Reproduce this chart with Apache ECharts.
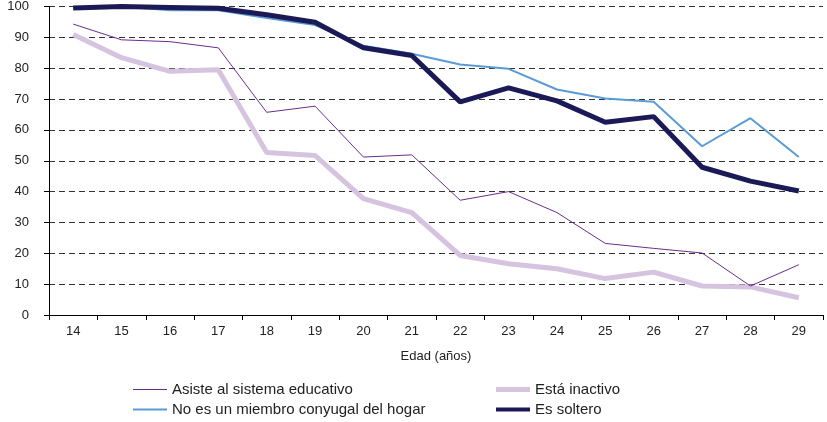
<!DOCTYPE html>
<html>
<head>
    <meta charset="UTF-8">
    <title>Edad</title>
    <script src="https://cdn.jsdelivr.net/npm/echarts@6/dist/echarts.min.js"></script>
    <style>
        html, body { margin: 0; padding: 0; background: #fff; }
        #main { width: 827px; height: 422px; }
    </style>
</head>
<body>
<div id="main"></div>
<script type="text/javascript">
    // edades
    var edades = ['14', '15', '16', '17', '18', '19', '20', '21', '22', '23', '24', '25', '26', '27', '28', '29'];
    var asiste = [94.3, 89.2, 88.6, 86.6, 65.7, 67.7, 51.2, 51.9, 37.2, 40.0, 33.2, 23.2, 21.6, 20.1, 9.4, 16.3];
    var noConyugal = [99.6, 100, 98.8, 98.8, 96.3, 94.0, 87.3, 84.7, 81.2, 79.8, 73.1, 70.2, 69.1, 54.7, 63.8, 51.2];
    var inactivo = [90.9, 83.4, 79.0, 79.5, 52.7, 51.7, 37.7, 33.2, 19.3, 16.6, 15.0, 11.8, 13.9, 9.4, 9.1, 5.6];
    var soltero = [99.5, 100, 99.7, 99.4, 97.3, 94.9, 86.6, 84.1, 69.1, 73.6, 69.4, 62.5, 64.3, 47.9, 43.4, 40.2];

    var fuente = 'Liberation Sans, Arial, sans-serif';

    // una leyenda por serie, para que cada icono tenga su grosor
    function leyenda(nombre, x, y, grosor) {
        return {
            left: x, top: y,
            icon: 'rect',
            itemWidth: 34, itemHeight: grosor,
            textStyle: { fontSize: 15, color: '#222', fontFamily: fuente },
            data: [nombre]
        };
    }

    var myChart = echarts.init(document.getElementById('main'));
    myChart.setOption({
        animation: false,
        textStyle: { fontFamily: fuente },
        grid: { left: 49, right: 4, top: 5, bottom: 107 },
        legend: [
            leyenda('Asiste al sistema educativo', 128, 377, 1),
            leyenda('No es un miembro conyugal del hogar', 128, 397, 2),
            leyenda('Está inactivo', 491, 377, 5),
            leyenda('Es soltero', 491, 397, 4)
        ],
        xAxis: {
            type: 'category',
            data: edades,
            name: 'Edad (años)',
            nameLocation: 'middle',
            nameGap: 35,
            nameTextStyle: { fontSize: 13, color: '#222' },
            axisLine: { lineStyle: { color: '#000', width: 1 } },
            axisTick: { show: true, length: 5, lineStyle: { color: '#000' } },
            axisLabel: { fontSize: 13, color: '#222', margin: 10 },
            splitLine: { show: false }
        },
        yAxis: {
            type: 'value',
            min: 0, max: 100, interval: 10,
            axisLine: { show: true, lineStyle: { color: '#000', width: 1 } },
            axisTick: { show: true, length: 5, lineStyle: { color: '#000' } },
            axisLabel: { fontSize: 13, color: '#222', margin: 20 },
            splitLine: { show: true, lineStyle: { color: '#333', type: [6, 4], width: 1 } }
        },
        series: [{
            name: 'Asiste al sistema educativo',
            type: 'line',
            data: asiste,
            symbol: 'none',
            z: 4,
            lineStyle: { color: '#6b2c8e', width: 1 },
            itemStyle: { color: '#6b2c8e' }
        }, {
            name: 'No es un miembro conyugal del hogar',
            type: 'line',
            data: noConyugal,
            symbol: 'none',
            z: 3,
            lineStyle: { color: '#5b9bd5', width: 2 },
            itemStyle: { color: '#5b9bd5' }
        }, {
            name: 'Está inactivo',
            type: 'line',
            data: inactivo,
            symbol: 'none',
            z: 2,
            lineStyle: { color: '#d5c3e0', width: 5 },
            itemStyle: { color: '#d5c3e0' }
        }, {
            name: 'Es soltero',
            type: 'line',
            data: soltero,
            symbol: 'none',
            z: 3,
            lineStyle: { color: '#1b1a56', width: 5 },
            itemStyle: { color: '#1b1a56' }
        }]
    });
</script>
</body>
</html>
